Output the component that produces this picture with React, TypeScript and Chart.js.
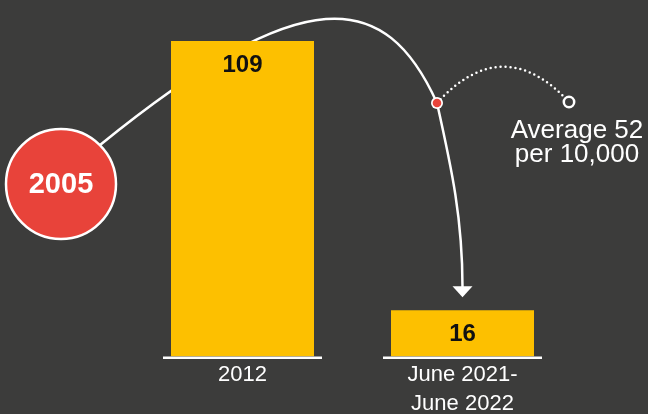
import { useEffect, useRef } from "react";
import { Chart, registerables } from "chart.js";

Chart.register(...registerables);

// ---- data ----
const categories: (string | string[])[] = ["2012", ["June 2021-", "June 2022"]];
const values: number[] = [109, 16];
const startYear = "2005";
const averageLines: string[] = ["Average 52", "per 10,000"];

// ---- style ----
const BG = "#3c3c3b";
const YELLOW = "#FDC000";
const RED = "#E8433A";
const WHITE = "#ffffff";
const FONT = "'Liberation Sans', Arial, Helvetica, sans-serif";

const decorPlugin = {
  id: "decor",
  beforeDraw(chart: any) {
    const { ctx, width, height } = chart;
    ctx.save();
    ctx.fillStyle = BG;
    ctx.fillRect(0, 0, width, height);
    ctx.restore();
  },
  beforeDatasetsDraw(chart: any) {
    const g = geom(chart);
    const ctx = chart.ctx;
    ctx.save();
    ctx.strokeStyle = WHITE;
    ctx.lineWidth = 2.5;
    ctx.lineCap = "round";
    ctx.beginPath();
    ctx.moveTo(g.cx + g.r * 0.71, g.cy - g.r * 0.71);
    ctx.bezierCurveTo(g.x0 + 62, g.t0 - 62, g.x1 - 77, g.t0 - 52, g.dotX, g.dotY);
    ctx.bezierCurveTo(g.x1 - 10.5, g.t0 + 129, g.x1, g.t1 - 91, g.x1, g.t1 - 23);
    ctx.stroke();
    ctx.restore();
  },
  afterDatasetsDraw(chart: any) {
    const g = geom(chart);
    const ctx = chart.ctx;
    const meta = chart.getDatasetMeta(0);
    ctx.save();
    // base lines under bars
    ctx.fillStyle = WHITE;
    meta.data.forEach((bar: any) => {
      ctx.fillRect(bar.x - 79.5, bar.base, 159, 2.5);
    });
    // value labels
    ctx.fillStyle = "#111111";
    ctx.font = `bold 24px ${FONT}`;
    ctx.textAlign = "center";
    ctx.textBaseline = "middle";
    meta.data.forEach((bar: any, i: number) => {
      ctx.fillText(String(values[i]), bar.x, bar.y + 24);
    });
    // arrow head
    ctx.fillStyle = WHITE;
    ctx.beginPath();
    ctx.moveTo(g.x1 - 10, g.t1 - 24);
    ctx.lineTo(g.x1 + 10, g.t1 - 24);
    ctx.lineTo(g.x1, g.t1 - 13);
    ctx.closePath();
    ctx.fill();
    // dotted arc to average marker
    const hx = g.x1 + 106.5;
    const hy = g.t0 + 61;
    ctx.strokeStyle = WHITE;
    ctx.lineWidth = 2.5;
    ctx.lineCap = "round";
    ctx.setLineDash([0, 5]);
    ctx.beginPath();
    ctx.moveTo(g.dotX, g.dotY);
    ctx.quadraticCurveTo(g.x1 + 40.5, g.t0 - 10, hx, hy);
    ctx.stroke();
    ctx.setLineDash([]);
    // red dot on curve
    ctx.beginPath();
    ctx.arc(g.dotX, g.dotY, 6, 0, Math.PI * 2);
    ctx.fillStyle = WHITE;
    ctx.fill();
    ctx.beginPath();
    ctx.arc(g.dotX, g.dotY, 4.3, 0, Math.PI * 2);
    ctx.fillStyle = RED;
    ctx.fill();
    // hollow marker
    ctx.beginPath();
    ctx.arc(hx, hy, 5.2, 0, Math.PI * 2);
    ctx.fillStyle = BG;
    ctx.fill();
    ctx.strokeStyle = WHITE;
    ctx.lineWidth = 2.5;
    ctx.stroke();
    // average text
    ctx.fillStyle = WHITE;
    ctx.font = `26px ${FONT}`;
    ctx.textAlign = "center";
    ctx.textBaseline = "alphabetic";
    ctx.fillText(averageLines[0], g.x1 + 114.5, g.t0 + 97);
    ctx.fillText(averageLines[1], g.x1 + 114.5, g.t0 + 121);
    // start year circle
    ctx.beginPath();
    ctx.arc(g.cx, g.cy, g.r, 0, Math.PI * 2);
    ctx.fillStyle = RED;
    ctx.fill();
    ctx.strokeStyle = WHITE;
    ctx.lineWidth = 2.5;
    ctx.stroke();
    ctx.fillStyle = WHITE;
    ctx.font = `bold 29px ${FONT}`;
    ctx.textBaseline = "middle";
    ctx.fillText(startYear, g.cx, g.cy + 1);
    ctx.restore();
  },
};

function geom(chart: any) {
  const meta = chart.getDatasetMeta(0);
  const b0 = meta.data[0];
  const b1 = meta.data[1];
  const x0 = b0.x;
  const x1 = b1.x;
  const t0 = b0.y;
  const t1 = b1.y;
  return {
    x0,
    x1,
    t0,
    t1,
    cx: x0 - 181.5,
    cy: t0 + 143,
    r: 55,
    dotX: x1 - 25.5,
    dotY: t0 + 62,
  };
}

export default function App() {
  const ref = useRef<HTMLCanvasElement | null>(null);
  useEffect(() => {
    if (!ref.current) return;
    const chart = new Chart(ref.current, {
      type: "bar",
      data: {
        labels: categories as any,
        datasets: [
          {
            data: values,
            backgroundColor: YELLOW,
            borderWidth: 0,
            barPercentage: 0.65,
            categoryPercentage: 1,
          },
        ],
      },
      options: {
        responsive: false,
        animation: false,
        layout: { padding: { left: 132.5, right: 75.5, top: 41, bottom: 0 } },
        plugins: {
          legend: { display: false },
          tooltip: { enabled: false },
        },
        scales: {
          y: { display: false, min: 0, max: 109 },
          x: {
            grid: { display: false, drawTicks: false },
            border: { display: false },
            ticks: {
              color: WHITE,
              padding: 4,
              font: { family: FONT, size: 22, lineHeight: 1.32 },
              maxRotation: 0,
              autoSkip: false,
            },
            afterFit: (scale: any) => {
              scale.height = 57.5;
            },
          },
        },
      },
      plugins: [decorPlugin],
    });
    return () => chart.destroy();
  }, []);
  return (
    <div style={{ position: "fixed", left: 0, top: 0, width: 648, height: 414, background: BG }}>
      <canvas ref={ref} width={648} height={414} style={{ display: "block" }} />
    </div>
  );
}
